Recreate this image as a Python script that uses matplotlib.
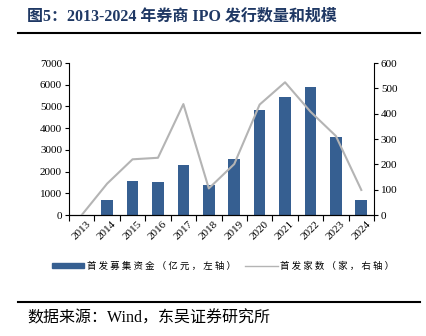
import numpy as np
import matplotlib.pyplot as plt
from matplotlib.lines import Line2D
from matplotlib.patches import Patch

plt.rcParams['font.family'] = ['Liberation Serif', 'Noto Sans CJK SC']

years = ['2013', '2014', '2015', '2016', '2017', '2018',
         '2019', '2020', '2021', '2022', '2023', '2024']
funds = [0, 670, 1580, 1510, 2320, 1390, 2560, 4820, 5450, 5880, 3580, 690]   # 亿元
counts = [0, 124, 220, 226, 438, 105, 201, 436, 524, 408, 312, 99]           # 家

bar_color = '#365f91'
line_color = '#b4b4b4'

fig = plt.figure(figsize=(4.27, 3.36), dpi=100)
ax = fig.add_axes([0.1616, 0.360, 0.7143, 0.4524])
x = np.arange(len(years))
ax.bar(x, funds, width=0.46, color=bar_color, zorder=2)
ax.set_xlim(-0.5, len(years) - 0.5)
ax.set_ylim(0, 7000)
ax.set_yticks(np.arange(0, 7001, 1000))
ax.set_xticks(x)
ax.set_xticklabels(years, rotation=45, fontsize=8)
ax.tick_params(axis='x', length=0, pad=3)
ax.set_xticks(np.arange(-0.5, len(years), 1), minor=True)
ax.tick_params(axis='x', which='minor', length=4, width=0.8)
ax.tick_params(axis='y', labelsize=8, length=3, width=0.8, pad=2)
ax.spines['top'].set_visible(False)
ax.spines['right'].set_visible(False)

ax2 = ax.twinx()
ax2.plot(x, counts, color=line_color, lw=1.5, zorder=3)
ax2.set_ylim(0, 600)
ax2.set_yticks(np.arange(0, 601, 100))
ax2.tick_params(axis='y', labelsize=8, length=3, width=0.8, pad=2)
ax2.spines['top'].set_visible(False)
ax2.spines['left'].set_visible(False)

# legend
def spaced(s):
    return ' '.join(s)

handles = [Patch(color=bar_color), Line2D([], [], color=line_color, lw=1)]
labels = [spaced('首发募集资金（亿元，左轴）'), spaced('首发家数（家，右轴）')]
fig.legend(handles, labels, loc='center', bbox_to_anchor=(0.523, 0.208), ncol=2,
           frameon=False, handlelength=3.4, handleheight=0.5, handletextpad=0.3,
           columnspacing=1.0, prop={'family': ['Noto Sans CJK SC'], 'size': 6.8})

# title and source
fig.text(0.063, 0.952, '图5：2013-2024 年券商 IPO 发行数量和规模', fontsize=11.5,
         fontweight='bold', color='#1f3864', va='center', ha='left')
fig.add_artist(Line2D([0.042, 0.984], [0.903, 0.903], color='black', lw=1.5))
fig.add_artist(Line2D([0.042, 0.984], [0.101, 0.101], color='black', lw=1.5))
fig.text(0.063, 0.052, '数据来源：Wind，东吴证券研究所', fontsize=11.5, va='center', ha='left')

fig.savefig('out.png', dpi=100)
